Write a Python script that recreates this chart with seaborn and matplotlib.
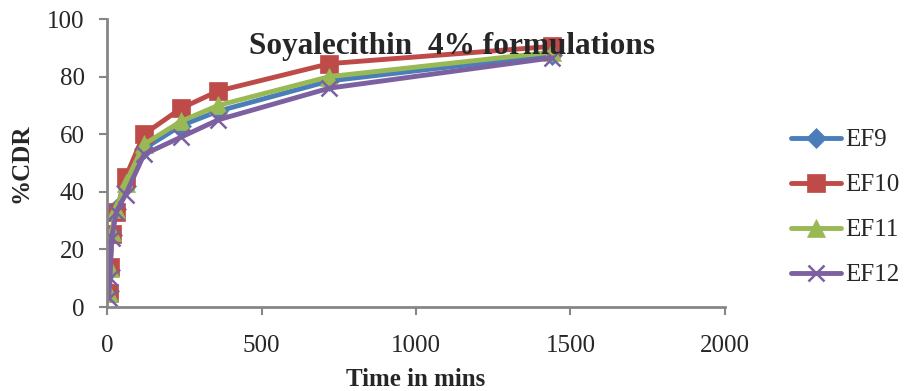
import matplotlib
matplotlib.use("Agg")
import matplotlib.pyplot as plt
import seaborn as sns
import pandas as pd

# Sampling times (minutes) and cumulative drug release (%) per formulation
time_min = [5, 10, 15, 30, 60, 120, 240, 360, 720, 1440]
ef9 = [5.5, 13.0, 25.0, 34.0, 42.0, 55.0, 63.0, 68.0, 78.5, 87.5]
ef10 = [5.0, 14.0, 25.5, 33.0, 45.0, 60.0, 69.0, 75.0, 84.5, 90.5]
ef11 = [5.0, 13.5, 26.0, 34.0, 43.0, 56.5, 64.5, 70.0, 80.0, 88.5]
ef12 = [3.0, 10.0, 24.0, 33.0, 39.0, 53.0, 59.0, 65.0, 76.0, 86.5]

series_names = ["EF9", "EF10", "EF11", "EF12"]
x_ticks = [0, 500, 1000, 1500, 2000]
y_ticks = [0, 20, 40, 60, 80, 100]

frames = []
for name, vals in zip(series_names, [ef9, ef10, ef11, ef12]):
    frames.append(pd.DataFrame({"Time": time_min, "CDR": vals, "Formulation": name}))
df = pd.concat(frames, ignore_index=True)

sns.set_theme(style="white")
plt.rcParams["font.family"] = ["Liberation Serif", "DejaVu Serif"]

fig = plt.figure(figsize=(9.08, 3.91), dpi=100)
ax = fig.add_axes([107 / 908, 1 - 307 / 391, 618 / 908, 288 / 391])

palette = {"EF9": "#4A7EBB", "EF10": "#BE4B48", "EF11": "#98B954", "EF12": "#7D60A0"}
markers = {"EF9": "D", "EF10": "s", "EF11": "^", "EF12": "x"}
sizes = {"EF9": 10, "EF10": 13, "EF11": 13, "EF12": 12}

for name in series_names:
    sub = df[df["Formulation"] == name]
    sns.lineplot(data=sub, x="Time", y="CDR", ax=ax, color=palette[name],
                 marker=markers[name], markersize=sizes[name],
                 markeredgecolor=palette[name],
                 markeredgewidth=1.8 if name == "EF12" else 0.5,
                 linewidth=3.5, label=name, sort=True)

ax.set_xlim(0, 2000)
ax.set_ylim(0, 100)
ax.set_xticks(x_ticks)
ax.set_yticks(y_ticks)
ax.tick_params(axis="both", labelsize=18, direction="out", length=6, width=1.5,
               color="#868686", bottom=True, left=True)
ax.tick_params(axis="y", pad=10)
ax.tick_params(axis="x", pad=14)

for side in ["top", "right"]:
    ax.spines[side].set_visible(False)
for side in ["left", "bottom"]:
    ax.spines[side].set_color("#868686")
    ax.spines[side].set_linewidth(2)

ax.set_xlabel("Time in mins", fontsize=18, fontweight="bold", labelpad=8)
ax.set_ylabel("%CDR", fontsize=18, fontweight="bold")
ax.yaxis.set_label_coords(-0.12, 0.5)

ax.text(0.558, 0.905, "Soyalecithin  4% formulations", transform=ax.transAxes,
        ha="center", va="center", fontsize=22.5, fontweight="bold")

ax.legend(loc="center left", bbox_to_anchor=(1.106, 0.345), frameon=False,
          fontsize=18, handlelength=2.0, handletextpad=0.2, labelspacing=0.9,
          borderpad=0, borderaxespad=0)

fig.savefig("out.png", dpi=100)
